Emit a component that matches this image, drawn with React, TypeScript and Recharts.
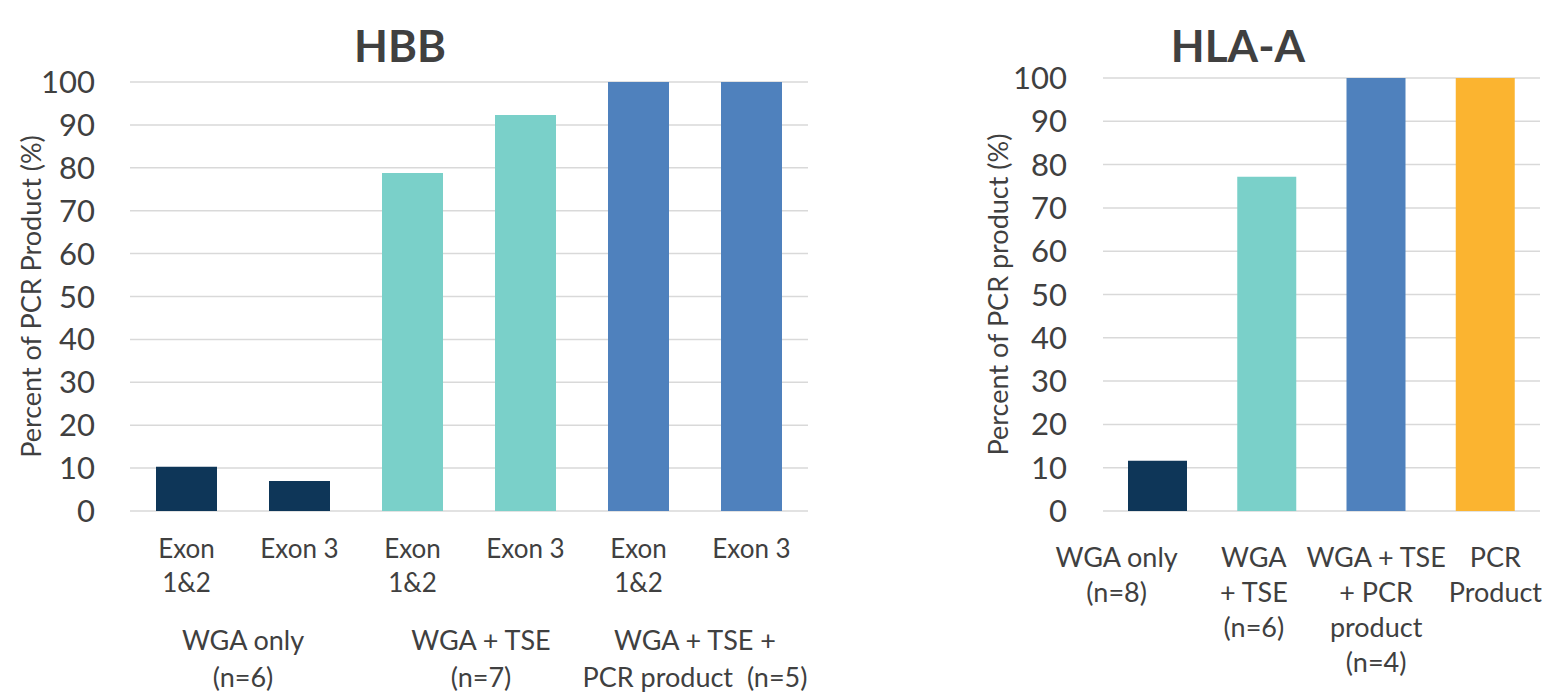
import React from "react";
import { BarChart, Bar, XAxis, YAxis, CartesianGrid, Cell, Label } from "recharts";

// ---------- data ----------
const hbbExonLabels = ["Exon\n1&2", "Exon 3", "Exon\n1&2", "Exon 3", "Exon\n1&2", "Exon 3"];
const hbbGroupLabels = [
  "WGA only\n(n=6)",
  "WGA only\n(n=6)",
  "WGA + TSE\n(n=7)",
  "WGA + TSE\n(n=7)",
  "WGA + TSE +\nPCR product  (n=5)",
  "WGA + TSE +\nPCR product  (n=5)",
];
const hbbValues = [10.3, 7.0, 78.8, 92.3, 100, 100];

const hlaLabels = ["WGA only\n(n=8)", "WGA\n+ TSE\n(n=6)", "WGA + TSE\n+ PCR\nproduct\n(n=4)", "PCR\nProduct"];
const hlaValues = [11.6, 77.2, 100, 100];

const yTicks = [0, 10, 20, 30, 40, 50, 60, 70, 80, 90, 100];

// ---------- styles ----------
const NAVY = "#0E3658";
const TEAL = "#7AD0C9";
const BLUE = "#4F81BD";
const ORANGE = "#FBB430";
const hbbColors = [NAVY, NAVY, TEAL, TEAL, BLUE, BLUE];
const hlaColors = [NAVY, TEAL, BLUE, ORANGE];
const TEXT = "#404040";
const GRID = "#D9D9D9";
const FONT = "Lato, 'Open Sans', sans-serif";

const hbbData = hbbExonLabels.map((exon, i) => ({
  exon,
  group: hbbGroupLabels[i],
  value: hbbValues[i],
}));
const hlaData = hlaLabels.map((label, i) => ({ label, value: hlaValues[i] }));

function MultiLineTick(props: any) {
  const { x, y, payload, index, fontSize, lineHeight, firstOffset, shifts } = props;
  const lines = String(payload.value).split("\n");
  const dx = shifts ? shifts[index] || 0 : 0;
  return (
    <text
      x={x + dx}
      y={y + firstOffset}
      textAnchor="middle"
      fill={TEXT}
      fontSize={fontSize}
      fontFamily={FONT}
    >
      {lines.map((l, i) => (
        <tspan key={i} x={x + dx} dy={i === 0 ? 0 : lineHeight} style={{ whiteSpace: "pre" }}>
          {l}
        </tspan>
      ))}
    </text>
  );
}

function YLabel(text: string, cx: number) {
  return (props: any) => {
    const vb = props.viewBox || {};
    const x = vb.x + cx;
    const y = vb.y + vb.height / 2;
    return (
      <text
        x={x}
        y={y}
        transform={`rotate(-90 ${x} ${y})`}
        textAnchor="middle"
        dominantBaseline="central"
        fill={TEXT}
        fontSize={27}
        fontFamily={FONT}
      >
        {text}
      </text>
    );
  };
}

const titleStyle: React.CSSProperties = {
  position: "absolute",
  top: 23,
  fontFamily: FONT,
  fontWeight: 700,
  fontSize: 44,
  lineHeight: "44px",
  color: TEXT,
  transform: "translateX(-50%)",
  whiteSpace: "nowrap",
};

const groupShifts = [0, 12, 0];
const hlaShifts = [-41, -13, 0, 10];

export default function App() {
  return (
    <div
      style={{
        position: "absolute",
        left: 0,
        top: 0,
        width: 1546,
        height: 693,
        background: "#fff",
        overflow: "hidden",
        fontFamily: FONT,
      }}
    >
      <div style={{ ...titleStyle, left: 400 }}>HBB</div>
      <div style={{ ...titleStyle, left: 1238 }}>HLA-A</div>

      <div style={{ position: "absolute", left: 0, top: 0 }}>
        <BarChart
          width={850}
          height={693}
          data={hbbData}
          margin={{ top: 82, right: 42, bottom: 0, left: 0 }}
        >
          <CartesianGrid vertical={false} stroke={GRID} strokeWidth={1.5} />
          <YAxis
            domain={[0, 100]}
            ticks={yTicks}
            width={130}
            axisLine={false}
            tickLine={false}
            tickSize={0}
            tickMargin={35}
            tick={{ fill: TEXT, fontSize: 31, fontFamily: FONT }}
            interval={0}
          >
            <Label content={YLabel("Percent of PCR Product (%)", 30)} />
          </YAxis>
          <XAxis
            dataKey="exon"
            height={100}
            axisLine={false}
            tickLine={false}
            tickSize={0}
            tickMargin={0}
            interval={0}
            tick={(p: any) => (
              <MultiLineTick {...p} fontSize={26} lineHeight={34} firstOffset={47} />
            )}
          />
          <XAxis
            xAxisId="group"
            dataKey="group"
            allowDuplicatedCategory={false}
            height={82}
            axisLine={false}
            tickLine={false}
            tickSize={0}
            tickMargin={0}
            interval={0}
            tick={(p: any) => (
              <MultiLineTick
                {...p}
                fontSize={27}
                lineHeight={37}
                firstOffset={39}
                shifts={groupShifts}
              />
            )}
          />
          <Bar dataKey="value" barSize={61} isAnimationActive={false}>
            {hbbData.map((_, i) => (
              <Cell key={i} fill={hbbColors[i]} />
            ))}
          </Bar>
        </BarChart>
      </div>

      <div style={{ position: "absolute", left: 960, top: 0 }}>
        <BarChart
          width={586}
          height={693}
          data={hlaData}
          margin={{ top: 78, right: 6, bottom: 0, left: 0 }}
        >
          <CartesianGrid vertical={false} stroke={GRID} strokeWidth={1.5} />
          <YAxis
            domain={[0, 100]}
            ticks={yTicks}
            width={143}
            axisLine={false}
            tickLine={false}
            tickSize={0}
            tickMargin={36}
            tick={{ fill: TEXT, fontSize: 31, fontFamily: FONT }}
            interval={0}
          >
            <Label content={YLabel("Percent of PCR product (%)", 37)} />
          </YAxis>
          <XAxis
            dataKey="label"
            height={182}
            axisLine={false}
            tickLine={false}
            tickSize={0}
            tickMargin={0}
            interval={0}
            tick={(p: any) => (
              <MultiLineTick
                {...p}
                fontSize={27}
                lineHeight={35}
                firstOffset={56}
                shifts={hlaShifts}
              />
            )}
          />
          <Bar dataKey="value" barSize={59} isAnimationActive={false}>
            {hlaData.map((_, i) => (
              <Cell key={i} fill={hlaColors[i]} />
            ))}
          </Bar>
        </BarChart>
      </div>
    </div>
  );
}
